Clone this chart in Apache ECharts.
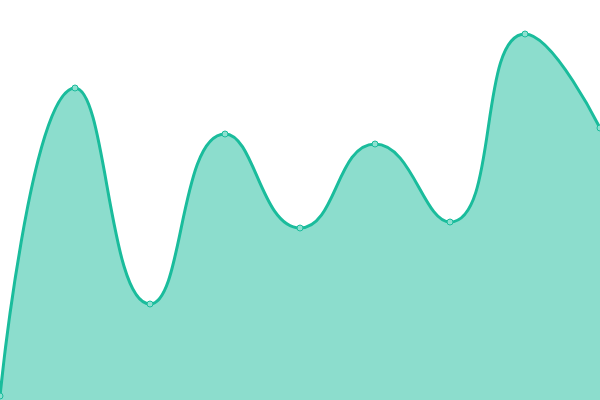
<!DOCTYPE html>
<html><head><meta charset="utf-8">
<script src="https://cdn.jsdelivr.net/npm/echarts@6/dist/echarts.min.js"></script>
<style>html,body{margin:0;padding:0;background:#fff}#c{width:600px;height:400px}</style>
</head><body><div id="c"></div>
<script>
const categories = ['1','2','3','4','5','6','7','8','9'];
const values = [1, 78, 24, 66.5, 43, 64, 44.5, 91.5, 68];
const chart = echarts.init(document.getElementById('c'));
chart.setOption({
  animation: false,
  grid: {left: 0, right: 0, top: 0, bottom: 0},
  xAxis: {type: 'category', data: categories, boundaryGap: false, show: false},
  yAxis: {type: 'value', min: 0, max: 100, show: false},
  series: [{
    type: 'line',
    data: values,
    smooth: true,
    symbol: 'circle',
    symbolSize: 6,
    lineStyle: {color: '#1abc9c', width: 3},
    itemStyle: {color: '#8de0d0', borderColor: '#1abc9c', borderWidth: 1},
    areaStyle: {color: '#1abc9c', opacity: 0.5}
  }]
});
</script></body></html>
